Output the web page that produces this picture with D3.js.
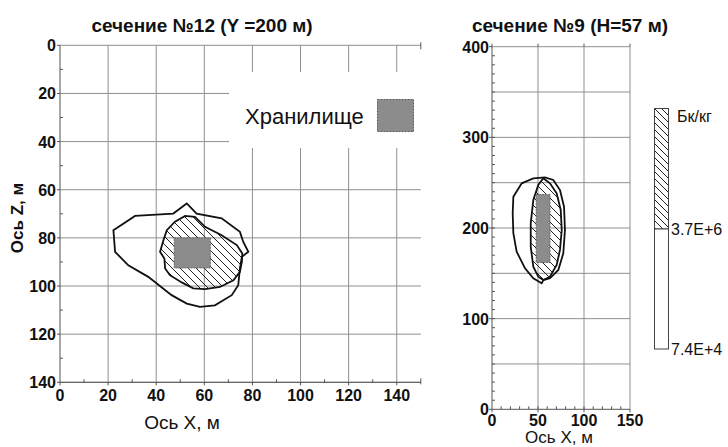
<!DOCTYPE html>
<html><head><meta charset="utf-8">
<script src="https://cdn.jsdelivr.net/npm/d3@7"></script>
<style>body{margin:0;background:#fff}svg{display:block}text{font-family:"Liberation Sans",Arial,sans-serif;fill:#111}</style>
</head><body><svg id="c" width="728" height="447"></svg>
<script>
// ---- data ----
const leftTitle = "сечение №12 (Y =200 м)";
const rightTitle = "сечение №9 (H=57 м)";
const leftXTicks = [0,20,40,60,80,100,120,140];
const leftZTicks = [0,20,40,60,80,100,120,140];
const rightXTicks = [0,50,100,150];
const rightHTicks = [0,100,200,300,400];
const legendLabels = ["Бк/кг","3.7E+6","7.4E+4"];
const storageLabel = "Хранилище";
// section 12 (x, z) contours
const outerXZ = [[22.2,76.8],[31.2,70.9],[47.1,69.9],[52.7,65.7],[56.8,69.9],[67.2,71.9],[74.8,77.5],[76.2,81.7],[78.3,85.8],[75.6,87.9],[74.8,92.7],[74.1,99.7],[71.4,103.8],[64.4,108],[58.2,108.7],[52.7,107.3],[46.4,103.8],[36.7,96.2],[28.4,91.4],[22.9,85.8]];
const innerXZ = [[41.6,85.8],[43.0,81.0],[44.4,76.8],[47.8,73.3],[52.0,70.9],[56.1,71.3],[60.3,75.4],[67.2,78.9],[73.5,83.0],[75.8,86.5],[75.6,90.0],[74.8,94.1],[72.1,97.6],[66.5,100.4],[60.3,101.3],[55.4,101.0],[50.6,98.5],[45.7,95.5],[43.7,92.7],[43.4,88.6]];
const storageXZ = {x0:47.5,x1:62.5,z0:80,z1:92.5};
// section 9 (x, h) contours
const outerXH = [[23.2,234.5],[32.3,249.3],[44.9,254.8],[57.6,255.9],[66.6,253.0],[73.9,241.9],[78.3,223.5],[79.3,197.8],[77.5,172.1],[72.1,153.7],[63.0,144.5],[55.8,142.6],[54.0,139.0],[44.9,144.5],[35.9,155.5],[26.8,173.9],[23.2,194.2],[22.5,216.2]];
const innerXH = [[55.8,254.8],[63.0,249.3],[70.3,238.3],[74.7,219.9],[75.8,197.8],[73.9,175.8],[70.3,159.2],[63.0,146.3],[55.8,142.6],[50.3,146.3],[44.9,157.3],[42.1,179.4],[42.1,205.2],[44.9,230.9],[50.3,247.4]];
const storageXH = {x0:48,x1:63,h0:162,h1:237};

// ---- drawing ----
const svg = d3.select("#c");
const defs = svg.append("defs");
function hatch(id, s){
  const p = defs.append("pattern").attr("id",id).attr("patternUnits","userSpaceOnUse").attr("width",s).attr("height",s);
  p.append("path").attr("d",`M0,0L${s},${s}M${-s/2},${s/2}L${s/2},${s*1.5}M${s/2},${-s/2}L${s*1.5},${s/2}`).attr("stroke","#222").attr("stroke-width",1);
}
hatch("h1",8); hatch("h2",7);

const gridC = "#8f8f8f", axC = "#555";

// Left panel
const xL = d3.scaleLinear([0,150],[60,420.8]);
const zL = d3.scaleLinear([0,140],[45.3,382.3]);
const gL = svg.append("g");
gL.selectAll(".gv").data(leftXTicks.filter(d=>d>0)).join("line").attr("x1",d=>xL(d)).attr("x2",d=>xL(d)).attr("y1",zL(0)).attr("y2",zL(140)).attr("stroke",gridC);
gL.selectAll(".gh").data(leftZTicks).join("line").attr("x1",xL(0)).attr("x2",xL(150)).attr("y1",d=>zL(d)).attr("y2",d=>zL(d)).attr("stroke",gridC);
// legend white box
gL.append("rect").attr("x",229).attr("y",72).attr("width",196).attr("height",76).attr("fill","#fff");
// axes
gL.append("line").attr("x1",xL(0)).attr("x2",xL(0)).attr("y1",zL(0)).attr("y2",zL(140)).attr("stroke",axC);
gL.append("line").attr("x1",xL(0)).attr("x2",xL(150)).attr("y1",zL(140)).attr("y2",zL(140)).attr("stroke",axC);
gL.append("line").attr("x1",xL(150)).attr("x2",xL(150)).attr("y1",zL(0)-3).attr("y2",zL(0)+4).attr("stroke",axC);
gL.append("line").attr("x1",xL(150)).attr("x2",xL(150)).attr("y1",zL(140)-4).attr("y2",zL(140)+2).attr("stroke",axC);
d3.range(10,150,20).forEach(v=>{
  gL.append("line").attr("x1",xL(v)).attr("x2",xL(v)).attr("y1",zL(140)).attr("y2",zL(140)-3).attr("stroke",axC);
});
d3.range(10,140,20).forEach(v=>{
  gL.append("line").attr("x1",xL(0)).attr("x2",xL(0)+3).attr("y1",zL(v)).attr("y2",zL(v)).attr("stroke",axC);
});
leftZTicks.forEach(v=>gL.append("line").attr("x1",xL(0)-3).attr("x2",xL(0)).attr("y1",zL(v)).attr("y2",zL(v)).attr("stroke",axC));
leftXTicks.forEach(v=>gL.append("line").attr("x1",xL(v)).attr("x2",xL(v)).attr("y1",zL(140)).attr("y2",zL(140)+3).attr("stroke",axC));
gL.selectAll(".yl").data(leftZTicks).join("text").attr("x",xL(0)-4).attr("y",d=>zL(d)+6).attr("text-anchor","end").attr("font-size",16).attr("font-weight","bold").text(d=>d);
gL.selectAll(".xl").data(leftXTicks).join("text").attr("x",d=>xL(d)).attr("y",zL(140)+19).attr("text-anchor","middle").attr("font-size",16).attr("font-weight","bold").text(d=>d);
gL.append("text").attr("x",182).attr("y",429).attr("text-anchor","middle").attr("font-size",19).text("Ось X, м");
gL.append("text").attr("transform","translate(23,218) rotate(-90)").attr("text-anchor","middle").attr("font-size",17).attr("font-weight","bold").text("Ось Z, м");
gL.append("text").attr("x",202).attr("y",32).attr("text-anchor","middle").attr("font-size",19).attr("font-weight","bold").text(leftTitle);

const lineL = d3.line().x(d=>xL(d[0])).y(d=>zL(d[1])).curve(d3.curveLinearClosed);
gL.append("path").attr("d",lineL(outerXZ)).attr("fill","none").attr("stroke","#111").attr("stroke-width",1.8);
gL.append("path").attr("d",lineL(innerXZ)).attr("fill","url(#h1)").attr("stroke","#111").attr("stroke-width",1.8);
gL.append("rect").attr("x",xL(storageXZ.x0)).attr("y",zL(storageXZ.z0)).attr("width",xL(storageXZ.x1)-xL(storageXZ.x0)).attr("height",zL(storageXZ.z1)-zL(storageXZ.z0)).attr("fill","#8c8c8c").attr("stroke","#666").attr("stroke-dasharray","2,1");
// storage legend
gL.append("text").attr("x",245).attr("y",124).attr("font-size",22).text(storageLabel);
gL.append("rect").attr("x",377.5).attr("y",99.5).attr("width",36).attr("height",32).attr("fill","#8c8c8c").attr("stroke","#555").attr("stroke-dasharray","2,1");

// Right panel
const xR = d3.scaleLinear([0,150],[492,630]);
const hR = d3.scaleLinear([0,400],[409.3,46.7]);
const gR = svg.append("g");
gR.selectAll(".gv").data([50,100,150]).join("line").attr("x1",d=>xR(d)).attr("x2",d=>xR(d)).attr("y1",hR(0)).attr("y2",hR(400)).attr("stroke",gridC);
gR.selectAll(".gh").data(d3.range(50,401,50)).join("line").attr("x1",xR(0)).attr("x2",xR(150)).attr("y1",d=>hR(d)).attr("y2",d=>hR(d)).attr("stroke",gridC);
gR.append("line").attr("x1",xR(0)).attr("x2",xR(0)).attr("y1",hR(0)).attr("y2",hR(400)).attr("stroke",axC);
gR.append("line").attr("x1",xR(0)).attr("x2",xR(150)).attr("y1",hR(0)).attr("y2",hR(0)).attr("stroke",axC);
d3.range(10,400,10).forEach(v=>gR.append("line").attr("x1",xR(0)).attr("x2",xR(0)+3).attr("y1",hR(v)).attr("y2",hR(v)).attr("stroke",axC));
d3.range(10,150,10).forEach(v=>gR.append("line").attr("x1",xR(v)).attr("x2",xR(v)).attr("y1",hR(0)).attr("y2",hR(0)-3).attr("stroke",axC));
rightHTicks.forEach(v=>gR.append("line").attr("x1",xR(0)-3).attr("x2",xR(0)).attr("y1",hR(v)).attr("y2",hR(v)).attr("stroke",axC));
rightXTicks.forEach(v=>gR.append("line").attr("x1",xR(v)).attr("x2",xR(v)).attr("y1",hR(0)).attr("y2",hR(0)+3).attr("stroke",axC));
rightXTicks.forEach(v=>gR.append("line").attr("x1",xR(v)).attr("x2",xR(v)).attr("y1",hR(400)-3).attr("y2",hR(400)).attr("stroke",axC));
gR.selectAll(".yl").data(rightHTicks).join("text").attr("x",xR(0)-3).attr("y",d=>hR(d)+6).attr("text-anchor","end").attr("font-size",16).attr("font-weight","bold").text(d=>d);
gR.selectAll(".xl").data(rightXTicks).join("text").attr("x",d=>xR(d)).attr("y",hR(0)+17).attr("text-anchor","middle").attr("font-size",16).attr("font-weight","bold").text(d=>d);
gR.append("text").attr("x",559).attr("y",443).attr("text-anchor","middle").attr("font-size",17).text("Ось X, м");
gR.append("text").attr("x",570).attr("y",32).attr("text-anchor","middle").attr("font-size",19).attr("font-weight","bold").text(rightTitle);

const lineR = d3.line().x(d=>xR(d[0])).y(d=>hR(d[1])).curve(d3.curveLinearClosed);
gR.append("path").attr("d",lineR(outerXH)).attr("fill","none").attr("stroke","#111").attr("stroke-width",1.8);
gR.append("path").attr("d",lineR(innerXH)).attr("fill","url(#h1)").attr("stroke","#111").attr("stroke-width",1.8);
gR.append("rect").attr("x",xR(storageXH.x0)).attr("y",hR(storageXH.h1)).attr("width",xR(storageXH.x1)-xR(storageXH.x0)).attr("height",hR(storageXH.h0)-hR(storageXH.h1)).attr("fill","#8c8c8c").attr("stroke","#666").attr("stroke-dasharray","2,1");

// colour legend
const lg = svg.append("g");
lg.append("rect").attr("x",654.5).attr("y",108.5).attr("width",14).attr("height",120.5).attr("fill","url(#h2)").attr("stroke","#444");
lg.append("rect").attr("x",654.5).attr("y",229).attr("width",14).attr("height",120).attr("fill","#fff").attr("stroke","#444");
lg.append("text").attr("x",677).attr("y",122).attr("font-size",16).text(legendLabels[0]);
lg.append("text").attr("x",671).attr("y",235).attr("font-size",16).text(legendLabels[1]);
lg.append("text").attr("x",671).attr("y",355).attr("font-size",16).text(legendLabels[2]);
</script></body></html>
